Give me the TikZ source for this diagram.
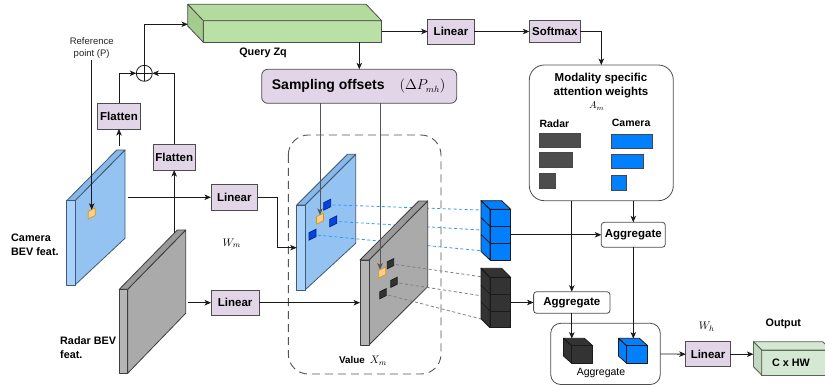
\documentclass[tikz,border=0pt]{standalone}
\usepackage[no-math]{fontspec}
\setmainfont{Liberation Sans}
\usetikzlibrary{arrows.meta}
\definecolor{purp}{HTML}{E1D5E7}
\definecolor{bdr}{HTML}{4D4D4D}
\definecolor{lnc}{HTML}{1A1A1A}
\definecolor{glnc}{HTML}{555555}
\definecolor{qfront}{HTML}{B9E0A5}
\definecolor{qside}{HTML}{A3CC8E}
\definecolor{qtop}{HTML}{B3DB9E}
\definecolor{ofront}{HTML}{D5E8D4}
\definecolor{oside}{HTML}{C3D8C2}
\definecolor{obdr}{HTML}{56674F}
\definecolor{camside}{HTML}{95C3F1}
\definecolor{camfront}{HTML}{A9D3FB}
\definecolor{camtop}{HTML}{88B8EA}
\definecolor{cambdr}{HTML}{3F5A75}
\definecolor{radside}{HTML}{AAAAAA}
\definecolor{radfront}{HTML}{B5B5B5}
\definecolor{radtop}{HTML}{9A9A9A}
\definecolor{radbdr}{HTML}{3D3D3D}
\definecolor{cblue}{HTML}{007FFF}
\definecolor{cblk}{HTML}{333333}
\definecolor{barblk}{HTML}{4D4D4D}
\definecolor{pblue}{HTML}{0645DD}
\definecolor{pbluebd}{HTML}{002299}
\definecolor{dblue}{HTML}{3399FF}
\definecolor{orf}{HTML}{FFCC99}
\definecolor{ord}{HTML}{D79B00}

\tikzset{
  box/.style={draw=bdr, line width=0.8pt, fill=purp, inner sep=0pt, outer sep=0pt,
    font=\fontsize{11.5}{13}\selectfont\bfseries},
  aggbox/.style={box, fill=white, rounded corners=3pt},
  frame/.style={draw=bdr, line width=0.8pt, inner sep=0pt, outer sep=0pt},
  arr/.style={draw=lnc, line width=0.8pt, -{Stealth[length=6.5pt,width=5.5pt,inset=1.8pt]}},
  garr/.style={draw=glnc, line width=0.8pt, -{Stealth[length=6.5pt,width=5.5pt,inset=1.8pt]}},
  ln/.style={draw=lnc, line width=0.8pt},
  lbl/.style={font=\fontsize{10.8}{14}\selectfont\bfseries, inner sep=0pt},
  mathlbl/.style={font=\fontsize{11}{13}\selectfont, inner sep=0pt},
  pcamside/.style={fill=camside, draw=cambdr, line width=0.8pt, line join=round},
  pcamtop/.style={fill=camtop, draw=cambdr, line width=0.8pt, line join=round},
  pcamfront/.style={fill=camfront, draw=cambdr, line width=0.8pt, line join=round},
  pradside/.style={fill=radside, draw=radbdr, line width=0.8pt, line join=round},
  pradtop/.style={fill=radtop, draw=radbdr, line width=0.8pt, line join=round},
  pradfront/.style={fill=radfront, draw=radbdr, line width=0.8pt, line join=round},
  cubeb/.style={fill=cblue, draw=lnc, line width=0.8pt, line join=round},
  cubek/.style={fill=cblk, draw=lnc, line width=0.8pt, line join=round},
  patch/.pic={\path[pic actions] (-3.5,-2) -- ++(7,-3.5) -- ++(0,7.5) -- ++(-7,3.5) -- cycle;},
  orpatch/.style={fill=orf, draw=ord, line width=0.7pt},
  bpatch/.style={fill=pblue, draw=pbluebd, line width=0.7pt},
  kpatch/.style={fill=cblk, draw=lnc, line width=0.7pt},
  bdash/.style={draw=dblue, line width=0.8pt, dash pattern=on 3pt off 2.5pt},
  kdash/.style={draw=gray, line width=0.8pt, dash pattern=on 3pt off 2.5pt},
}

% x y w h dx dy hb prefix
\newcommand\plane[8]{%
  \path[#8side] (#1+#3,#2) -- ++(#5,#6) -- ++(0,#7) -- (#1+#3,#2+#4) -- cycle;
  \path[#8top] (#1,#2) -- ++(#5,#6) -- ++(#3,0) -- (#1+#3,#2) -- cycle;
  \path[#8front] (#1,#2) rectangle ++(#3,#4);
}
% x y w hc n dx dy style
\newcommand\cstack[8]{%
  \path[#8] (#1,#2) -- ++(#6,#7) -- ++(0,#5*#4) -- (#1,#2+#5*#4) -- cycle;
  \path[#8] (#1,#2) -- ++(#6,#7) -- ++(#3,0) -- (#1+#3,#2) -- cycle;
  \foreach \i in {1,...,#5}{%
    \path[#8] (#1,#2+\i*#4-#4) rectangle ++(#3,#4);
    \draw[#8] (#1,#2+\i*#4-#4) -- ++(#6,#7);}
}

\begin{document}
\begin{tikzpicture}[x=1pt,y=-1pt]
\useasboundingbox (0,0) rectangle (825,385);
\fill[white] (0,0) rectangle (825,385);

% ---------- Query Zq ----------
\node[frame, fill=qfront, minimum width=178.4pt, minimum height=21.6pt] (qz) at (292.5,31.5) {};
\path[fill=qtop, draw=bdr, line width=0.8pt, line join=round] (qz.north west) -- ++(-15.6,-16.4) -- ++(178.4,0) -- (qz.north east) -- cycle;
\path[fill=qside, draw=bdr, line width=0.8pt, line join=round] (qz.north west) -- ++(-15.6,-16.4) -- ++(0,21.6) -- (qz.south west) -- cycle;
\coordinate (qin) at (187.9,24.3);
\node[lbl] at (263,53) {Query Zq};

% ---------- top row ----------
\node[box, minimum width=46.6pt, minimum height=25pt] (lin1) at (451,31.5) {Linear};
\node[box, minimum width=51pt, minimum height=21.6pt] (sm) at (554.8,31.5) {Softmax};
\draw[arr] (qz.east) -- (lin1.west);
\draw[arr] (lin1.east) -- (sm.east -| sm.west);

% ---------- sampling offsets ----------
\node[box, minimum width=195pt, minimum height=34pt, rounded corners=6pt] (samp) at (359.2,86.3) {};
\node[font=\fontsize{14}{16}\selectfont\bfseries, inner sep=0pt] at (328.3,86.3) {Sampling offsets};
\node[font=\fontsize{13.5}{16}\selectfont, inner sep=0pt] at (422.5,86.3) {$(\Delta P_{mh})$};
\coordinate (sx) at (359.3,0);
\draw[arr] (qz.south -| sx) -- (samp.north -| sx);

% ---------- modality weights ----------
\node[frame, rounded corners=15pt, minimum width=144pt, minimum height=135.7pt] (mod) at (601.3,132.85) {};
\draw[arr] (sm.east) -| (mod.north);
\node[font=\fontsize{11.5}{14}\selectfont\bfseries, align=center, inner sep=0pt] at (601,85.3) {Modality specific\\attention weights};
\node[font=\fontsize{10}{12}\selectfont, inner sep=0pt] at (596.7,106) {$A_m$};
\node[font=\fontsize{10.5}{12}\selectfont\bfseries, anchor=west, inner sep=0pt] at (539.3,123.3) {Radar};
\node[font=\fontsize{10.5}{12}\selectfont\bfseries, anchor=west, inner sep=0pt] at (611.7,123.3) {Camera};
\path[fill=barblk, draw=lnc!80, line width=0.7pt] (539.3,133.3) rectangle (580.3,147);
\path[fill=barblk, draw=lnc!80, line width=0.7pt] (539.3,152.7) rectangle (572,167);
\path[fill=barblk, draw=lnc!80, line width=0.7pt] (539.3,173.7) rectangle (555,188.7);
\path[fill=cblue, draw=lnc!80, line width=0.7pt] (611.7,134.7) rectangle (652,148.3);
\path[fill=cblue, draw=lnc!80, line width=0.7pt] (611.7,154) rectangle (643.7,168.3);
\path[fill=cblue, draw=lnc!80, line width=0.7pt] (611.7,175) rectangle (626.7,190);

% ---------- flatten + oplus ----------
\node[box, minimum width=42.6pt, minimum height=25.7pt] (fl1) at (119,116.2) {Flatten};
\node[box, minimum width=42.3pt, minimum height=25.7pt] (fl2) at (174.2,157.2) {Flatten};
\node[draw=lnc, line width=0.8pt, circle, minimum size=16pt, inner sep=0pt, outer sep=0pt] (op) at (144.3,73.3) {};
\draw[lnc, line width=0.8pt] (op.north) -- (op.south) (op.west) -- (op.east);
\draw[arr] (fl1.north) |- (op.west);
\draw[arr] (fl2.north) |- (op.east);
\draw[arr] (op.north) |- (qin);

% ---------- left planes ----------
\plane{66.7}{200.7}{8.3}{84.3}{50}{-50.7}{88.3}{pcam}
\plane{119.3}{289.3}{8.4}{84}{58}{-59.3}{83.3}{prad}
\coordinate (orL) at (91.7,213.5);
\pic[orpatch] at (orL) {patch};
\coordinate (orLt) at (91.7,209.8);
\coordinate (camLtop) at (119,146);
\coordinate (camLr) at (127.5,197.3);
\coordinate (radLtop) at (174.2,233);
\coordinate (radLr) at (187.5,302.7);
\draw[arr] (camLtop) -- (fl1.south);
\draw[arr] (radLtop) -- (fl2.south);

\node[font=\fontsize{9.5}{12}\selectfont, align=center, inner sep=1pt, text=black!85] (refp) at (91.7,48) {Reference\\point (P)};
\draw[arr] (refp.south) -- (orLt);

\node[lbl, anchor=west, align=left] at (11,245) {Camera\\BEV feat.};
\node[lbl, anchor=west, align=left] at (60,347.3) {Radar BEV\\feat.};

% ---------- linear W_m ----------
\node[box, minimum width=46.7pt, minimum height=25.3pt] (lin2) at (234.3,197.3) {Linear};
\node[box, minimum width=48.3pt, minimum height=25.3pt] (lin3) at (235.2,302.7) {Linear};
\node[mathlbl] at (231.7,243.3) {$W_m$};
\draw[arr] (camLr) -- (lin2.west);
\draw[arr] (radLr) -- (lin3.west);

% ---------- value box ----------
\draw[draw=glnc, line width=0.9pt, dash pattern=on 8pt off 5pt, rounded corners=20pt] (288.3,135) rectangle (441,374);
\node[inner sep=0pt] at (363,361) {\fontsize{9.8}{12}\selectfont\bfseries Value\hspace{5pt}\fontsize{11}{13}\selectfont$X_m$};

% camera plane (middle)
\plane{296.7}{205}{8.3}{85}{50.7}{-50.7}{89}{pcam}
\coordinate (camMl) at (296.7,247.7);
\draw[arr] (lin2.east) -- (277.7,197.3) |- (camMl);
\coordinate (b1) at (327.2,204.7);
\coordinate (b2) at (333.3,221.3);
\coordinate (b3) at (312.5,234.7);
\coordinate (be1) at (481,210);
\coordinate (be2) at (481,230);
\coordinate (be3) at (481,250.7);
\draw[bdash] (b1) -- (be1);
\draw[bdash] (b2) -- (be2);
\draw[bdash] (b3) -- (be3);
\pic[bpatch] at (b1) {patch};
\pic[bpatch] at (b2) {patch};
\pic[bpatch] at (b3) {patch};
\coordinate (orM) at (320,218.7);
\pic[orpatch] at (orM) {patch};

% radar plane (middle)
\plane{360}{260}{9}{85}{58.7}{-59}{85.7}{prad}
\coordinate (radMl) at (360,302.7);
\draw[arr] (lin3.east) -- (radMl);
\coordinate (k1) at (390.5,263.7);
\coordinate (k2) at (394,282.3);
\coordinate (k3) at (383,293.7);
\coordinate (ke1) at (481,276.7);
\coordinate (ke2) at (481,295.7);
\coordinate (ke3) at (481,319);
\draw[kdash] (k1) -- (ke1);
\draw[kdash] (k2) -- (ke2);
\draw[kdash] (k3) -- (ke3);
\pic[kpatch, scale=0.92] at (k1) {patch};
\pic[kpatch, scale=0.92] at (k2) {patch};
\pic[kpatch, scale=0.92] at (k3) {patch};
\coordinate (orR) at (382.2,272.5);
\pic[orpatch] at (orR) {patch};

% sampling arrows
\coordinate (orMt) at (320,214.9);
\coordinate (orRt) at (380,269.6);
\draw[garr] (samp.south -| orMt) -- (orMt);
\draw[garr] (samp.south -| orRt) -- (orRt);

% ---------- cube stacks ----------
\cstack{490}{209.3}{20.7}{16.9}{3}{-9}{-8.6}{cubeb}
\cstack{490}{277.3}{20.7}{16.8}{3}{-9}{-9}{cubek}
\coordinate (bstr) at (510.7,234.8);
\coordinate (kstr) at (510.7,302.5);

% ---------- aggregates ----------
\node[aggbox, minimum width=64pt, minimum height=25pt] (agg1) at (633.3,234.8) {Aggregate};
\node[aggbox, minimum width=76.4pt, minimum height=21.6pt] (agg2) at (571.8,302.5) {Aggregate};
\draw[arr] (bstr) -- (agg1.west);
\draw[arr] (kstr) -- (agg2.west);
\draw[arr] (mod.south -| agg1) -- (agg1.north);
\draw[arr] (mod.south -| agg2) -- (agg2.north);

\node[frame, rounded corners=10pt, minimum width=109.6pt, minimum height=61.2pt] (cont) at (605.5,353.9) {};
\cstack{571.7}{345.7}{21}{17.6}{1}{-8.3}{-7.4}{cubek}
\cstack{626.7}{345.7}{21}{17.6}{1}{-8.3}{-7.4}{cubeb}
\coordinate (kct) at (571.8,338.6);
\coordinate (bct) at (633.3,338.6);
\draw[arr] (agg2.south) -- (kct);
\draw[arr] (agg1.south) -- (bct);
\node[font=\fontsize{10.5}{12}\selectfont, inner sep=0pt] at (601,372.7) {Aggregate};

% ---------- output ----------
\node[box, minimum width=44.6pt, minimum height=25pt] (lin4) at (708,354.2) {Linear};
\node[mathlbl] at (706.7,326.7) {$W_h$};
\draw[arr] (cont.east) -- (lin4.west);
\node[frame, draw=obdr, fill=ofront, minimum width=69.3pt, minimum height=25pt] (outb) at (796.35,362.5) {};
\path[fill=ofront, draw=obdr, line width=0.8pt, line join=round] (outb.north west) -- ++(-8.3,-8.3) -- ++(69.3,0) -- (outb.north east) -- cycle;
\path[fill=oside, draw=obdr, line width=0.8pt, line join=round] (outb.north west) -- ++(-8.3,-8.3) -- ++(0,25) -- (outb.south west) -- cycle;
\coordinate (outl) at (753.4,354.2);
\draw[arr] (lin4.east) -- (outl);
\node[lbl] at (791,362.3) {C x HW};
\node[lbl] at (783.3,324) {Output};
\end{tikzpicture}
\end{document}
